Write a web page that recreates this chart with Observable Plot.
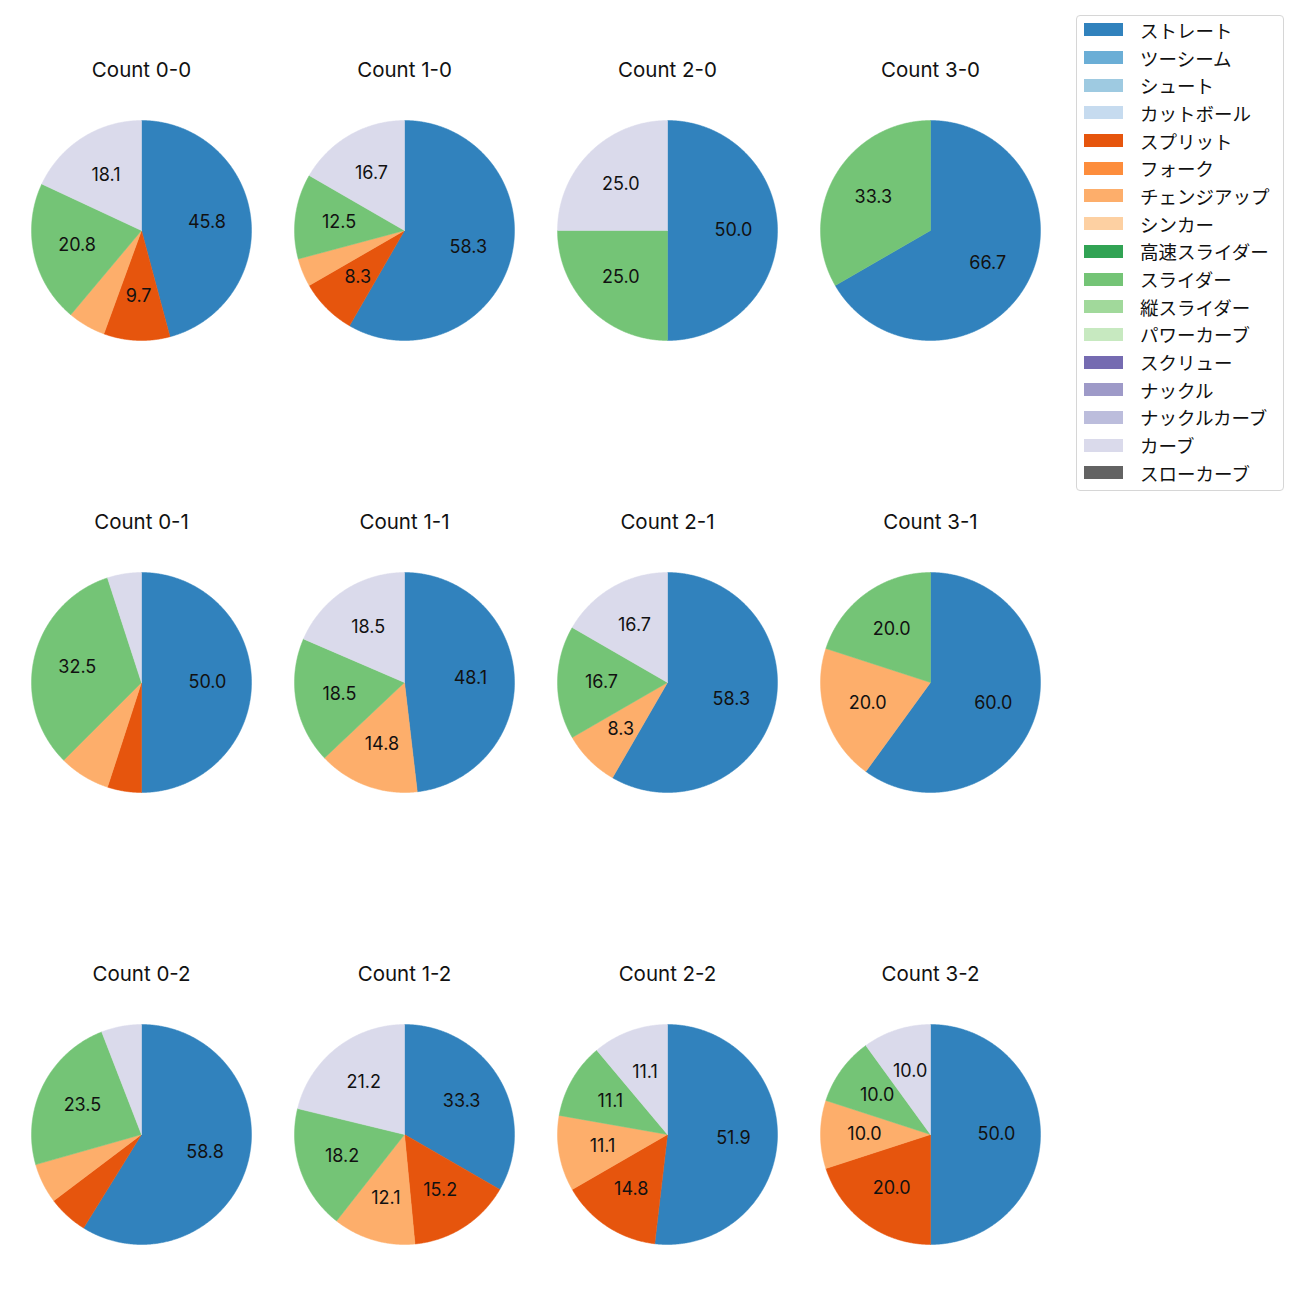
<!DOCTYPE html>
<html><head><meta charset="utf-8">
<script src="https://cdn.jsdelivr.net/npm/d3@7"></script>
<script src="https://cdn.jsdelivr.net/npm/@observablehq/plot@0.6"></script>
<style>
body{margin:0;background:#fff;font-family:Inter,"Noto Sans CJK JP",sans-serif;}
#root{position:relative;width:1300px;height:1300px;}
.cell{position:absolute;}
#legend{position:absolute;left:1076px;top:15px;width:208px;border:1px solid #d6d6d6;border-radius:4px;box-sizing:border-box;padding:0 0 3px 7px;background:#fff;}
#legend .lg-swatches{font-family:"Noto Sans CJK JP",sans-serif !important;font-size:18.5px !important;margin:0 !important;color:#111 !important;columns:auto !important;}
#legend .lg-swatch{height:27.7px !important;padding:0 !important;margin:0 !important;display:flex !important;align-items:center !important;}
#legend .lg-swatch svg{margin-right:17px !important;}
</style></head><body><div id="root"></div><script>
const pitchTypes = ["ストレート","ツーシーム","シュート","カットボール","スプリット","フォーク","チェンジアップ","シンカー","高速スライダー","スライダー","縦スライダー","パワーカーブ","スクリュー","ナックル","ナックルカーブ","カーブ","スローカーブ"];
const pitchColors = ["#3182bd","#6baed6","#9ecae1","#c6dbef","#e6550d","#fd8d3c","#fdae6b","#fdd0a2","#31a354","#74c476","#a1d99b","#c7e9c0","#756bb1","#9e9ac8","#bcbddc","#dadaeb","#636363"];
const countLabels = ["0-0","1-0","2-0","3-0","0-1","1-1","2-1","3-1","0-2","1-2","2-2","3-2"];
const sliceTypes = ["ストレート","スプリット","チェンジアップ","スライダー","カーブ"];
// pitch counts per ball-strike count (same order as countLabels)
const straight = [33,14,2,2,20,13,7,3,10,11,14,5];
const splitter = [7,2,0,0,2,0,0,0,1,5,4,2];
const changeup = [4,1,0,0,3,4,1,1,1,4,3,1];
const slider   = [15,3,1,1,13,5,2,1,4,6,3,1];
const curve    = [13,4,1,0,2,5,2,0,1,7,3,1];
const seriesByType = [straight, splitter, changeup, slider, curve];

const root = document.getElementById("root");
const font = 'Inter,"Noto Sans CJK JP",sans-serif';

countLabels.forEach((label, i) => {
  const rows = sliceTypes.map((t, k) => ({type: t, n: seriesByType[k][i]})).filter(d => d.n > 0);
  const total = d3.sum(rows, d => d.n);
  const arcs = d3.pie().sort(null).value(d => d.n)(rows);
  const pts = [];
  const labels = [];
  arcs.forEach(a => {
    const t = a.data.type;
    pts.push({type: t, x: 0, y: 0});
    const steps = Math.max(2, Math.ceil((a.endAngle - a.startAngle) / (Math.PI / 360)));
    for (let s = 0; s <= steps; s++) {
      const th = a.startAngle + (a.endAngle - a.startAngle) * s / steps;
      pts.push({type: t, x: Math.sin(th), y: Math.cos(th)});
    }
    pts.push({type: t, x: 0, y: 0});
    const pct = 100 * a.data.n / total;
    if (pct >= 8) {
      const m = (a.startAngle + a.endAngle) / 2;
      labels.push({x: 0.6 * Math.sin(m), y: 0.6 * Math.cos(m), text: pct.toFixed(1)});
    }
  });
  const chart = Plot.plot({
    width: 240, height: 300,
    marginTop: 70, marginBottom: 10, marginLeft: 10, marginRight: 10,
    x: {domain: [-1, 1], axis: null},
    y: {domain: [-1, 1], axis: null},
    color: {domain: pitchTypes, range: pitchColors},
    style: {fontFamily: font, background: "transparent", overflow: "visible"},
    marks: [
      Plot.line(pts, {x: "x", y: "y", z: "type", fill: "type", stroke: "type", strokeWidth: 0.5, curve: "linear"}),
      Plot.text(labels, {x: "x", y: "y", text: "text", fontSize: 18, fill: "#111"}),
      Plot.text(["Count " + label], {frameAnchor: "top", dy: -58, text: d => d, fontSize: 20.5, fill: "#111"})
    ]
  });
  const col = i % 4, row = Math.floor(i / 4);
  const cell = document.createElement("div");
  cell.className = "cell";
  cell.style.left = (21 + col * 263) + "px";
  cell.style.top = (50 + row * 452) + "px";
  cell.appendChild(chart);
  root.appendChild(cell);
});

const legendBox = document.createElement("div");
legendBox.id = "legend";
legendBox.appendChild(Plot.legend({
  color: {type: "ordinal", domain: pitchTypes, range: pitchColors},
  legend: "swatches", columns: 1, swatchWidth: 39, swatchHeight: 13, className: "lg"
}));
root.appendChild(legendBox);
</script></body></html>
